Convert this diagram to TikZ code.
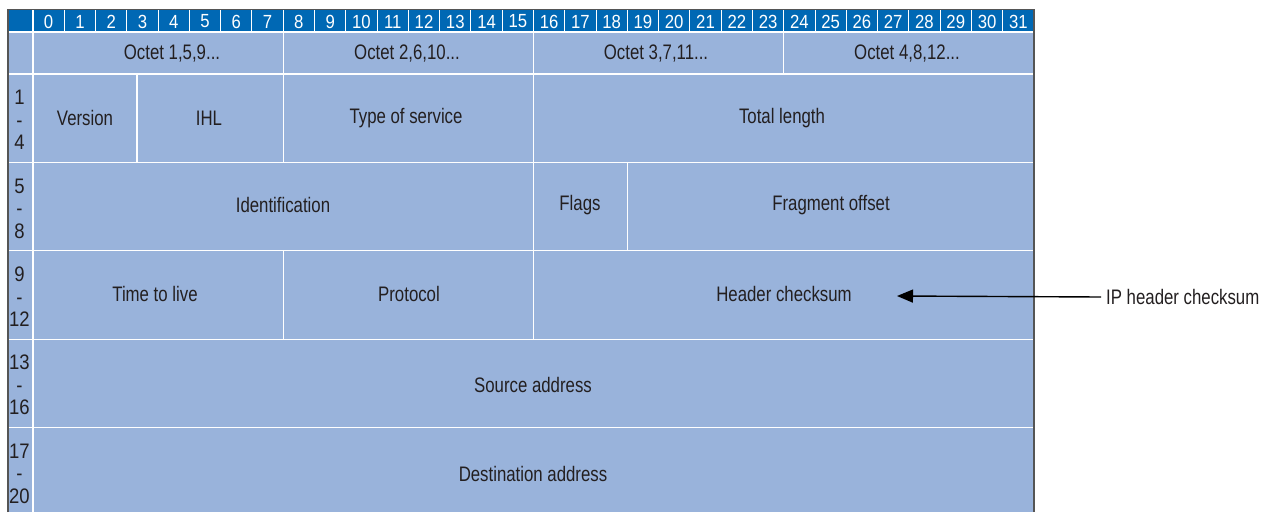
\documentclass[tikz,border=0pt]{standalone}
\usepackage{fontspec}
\setmainfont{Liberation Sans}[FakeStretch=0.8]
\newfontfamily\numfont{Liberation Sans}[FakeStretch=0.88]
\usetikzlibrary{arrows.meta}
\definecolor{barblue}{RGB}{0,104,180}
\definecolor{cellblue}{RGB}{153,179,219}
\definecolor{framegray}{RGB}{85,85,85}
\definecolor{txt}{RGB}{35,31,32}
\begin{document}
\begin{tikzpicture}[x=1pt,y=-1pt,
  celltext/.style={font=\fontsize{21}{22}\selectfont, text=txt, inner sep=0pt},
  bitnum/.style={font=\numfont\fontsize{19}{19}\selectfont, text=white, inner sep=0pt},
  rowlab/.style={font=\numfont\fontsize{21}{22.5}\selectfont, text=txt, inner sep=0pt, align=center},
  gridline/.style={white, line width=1.3pt},
  framelines/.style={framegray, line width=1.2pt},
  pointer/.style={black, line width=1.4pt, -{Triangle[length=16pt,width=13pt]}}
]
\useasboundingbox (0,0) rectangle (1274,512);
% backgrounds
\fill[cellblue] (8,32) rectangle (1034,512);
\fill[barblue] (8,9.5) rectangle (1034,32);
% bit separators in the top bar
\foreach \i in {0,...,31} {
  \draw[gridline, line width=1pt] ({33+31.28*\i},9.5) -- ({33+31.28*\i},32);
  \node[bitnum] (b\i) at ({33+31.28*(\i+0.5)},21.5) {\i};
}
% horizontal grid lines
\foreach \yy in {32,74,162.4,250.8,339.2,427.6} {
  \draw[gridline] (8,\yy) -- (1034,\yy);
}
% left column separator
\draw[gridline] (33,9.5) -- (33,512);
% octet row separators
\foreach \xx in {283.2,533.5,783.7} {
  \draw[gridline] (\xx,32) -- (\xx,74);
}
% row 1
\draw[gridline] (137,74) -- (137,162.4);
\draw[gridline] (283.2,74) -- (283.2,162.4);
\draw[gridline] (533.5,74) -- (533.5,162.4);
% row 2
\draw[gridline] (533.5,162.4) -- (533.5,250.8);
\draw[gridline] (627.5,162.4) -- (627.5,250.8);
% row 3
\draw[gridline] (283.2,250.8) -- (283.2,339.2);
\draw[gridline] (533.5,250.8) -- (533.5,339.2);
% frame
\draw[framelines] (8,512) -- (8,9.5) -- (1034,9.5) -- (1034,512);
% octet row texts
\node[celltext] (o1) at (172,54) {Octet 1,5,9...};
\node[celltext] (o2) at (407,54) {Octet 2,6,10...};
\node[celltext] (o3) at (656,54) {Octet 3,7,11...};
\node[celltext] (o4) at (907,54) {Octet 4,8,12...};
% row labels
\node[rowlab] (r1) at (19.5,120) {1\\-\\4};
\node[rowlab] (r2) at (19.5,208.4) {5\\-\\8};
\node[rowlab] (r3) at (19.5,296.8) {9\\-\\12};
\node[rowlab] (r4) at (19.5,385.2) {13\\-\\16};
\node[rowlab] (r5) at (19.5,473.6) {17\\-\\20};
% field texts
\node[celltext] (version) at (85,118) {Version};
\node[celltext] (ihl) at (209,118) {IHL};
\node[celltext] (tos) at (406,118) {Type of service};
\node[celltext] (totlen) at (782,118) {Total length};
\node[celltext] (ident) at (283,205) {Identification};
\node[celltext] (flags) at (580,205) {Flags};
\node[celltext] (frag) at (831,205) {Fragment offset};
\node[celltext] (ttl) at (155,294) {Time to live};
\node[celltext] (proto) at (409,294) {Protocol};
\node[celltext] (hcs) at (784,294) {Header checksum};
\node[celltext] (src) at (533,385) {Source address};
\node[celltext] (dst) at (533,474) {Destination address};
% pointer
\node[celltext, anchor=west] (iplab) at (1106,297) {IP header checksum};
\coordinate (tip) at (897,296);
\draw[pointer] (iplab.west) ++(-5,0) coordinate (tail) -- (tip);
\end{tikzpicture}
\end{document}
